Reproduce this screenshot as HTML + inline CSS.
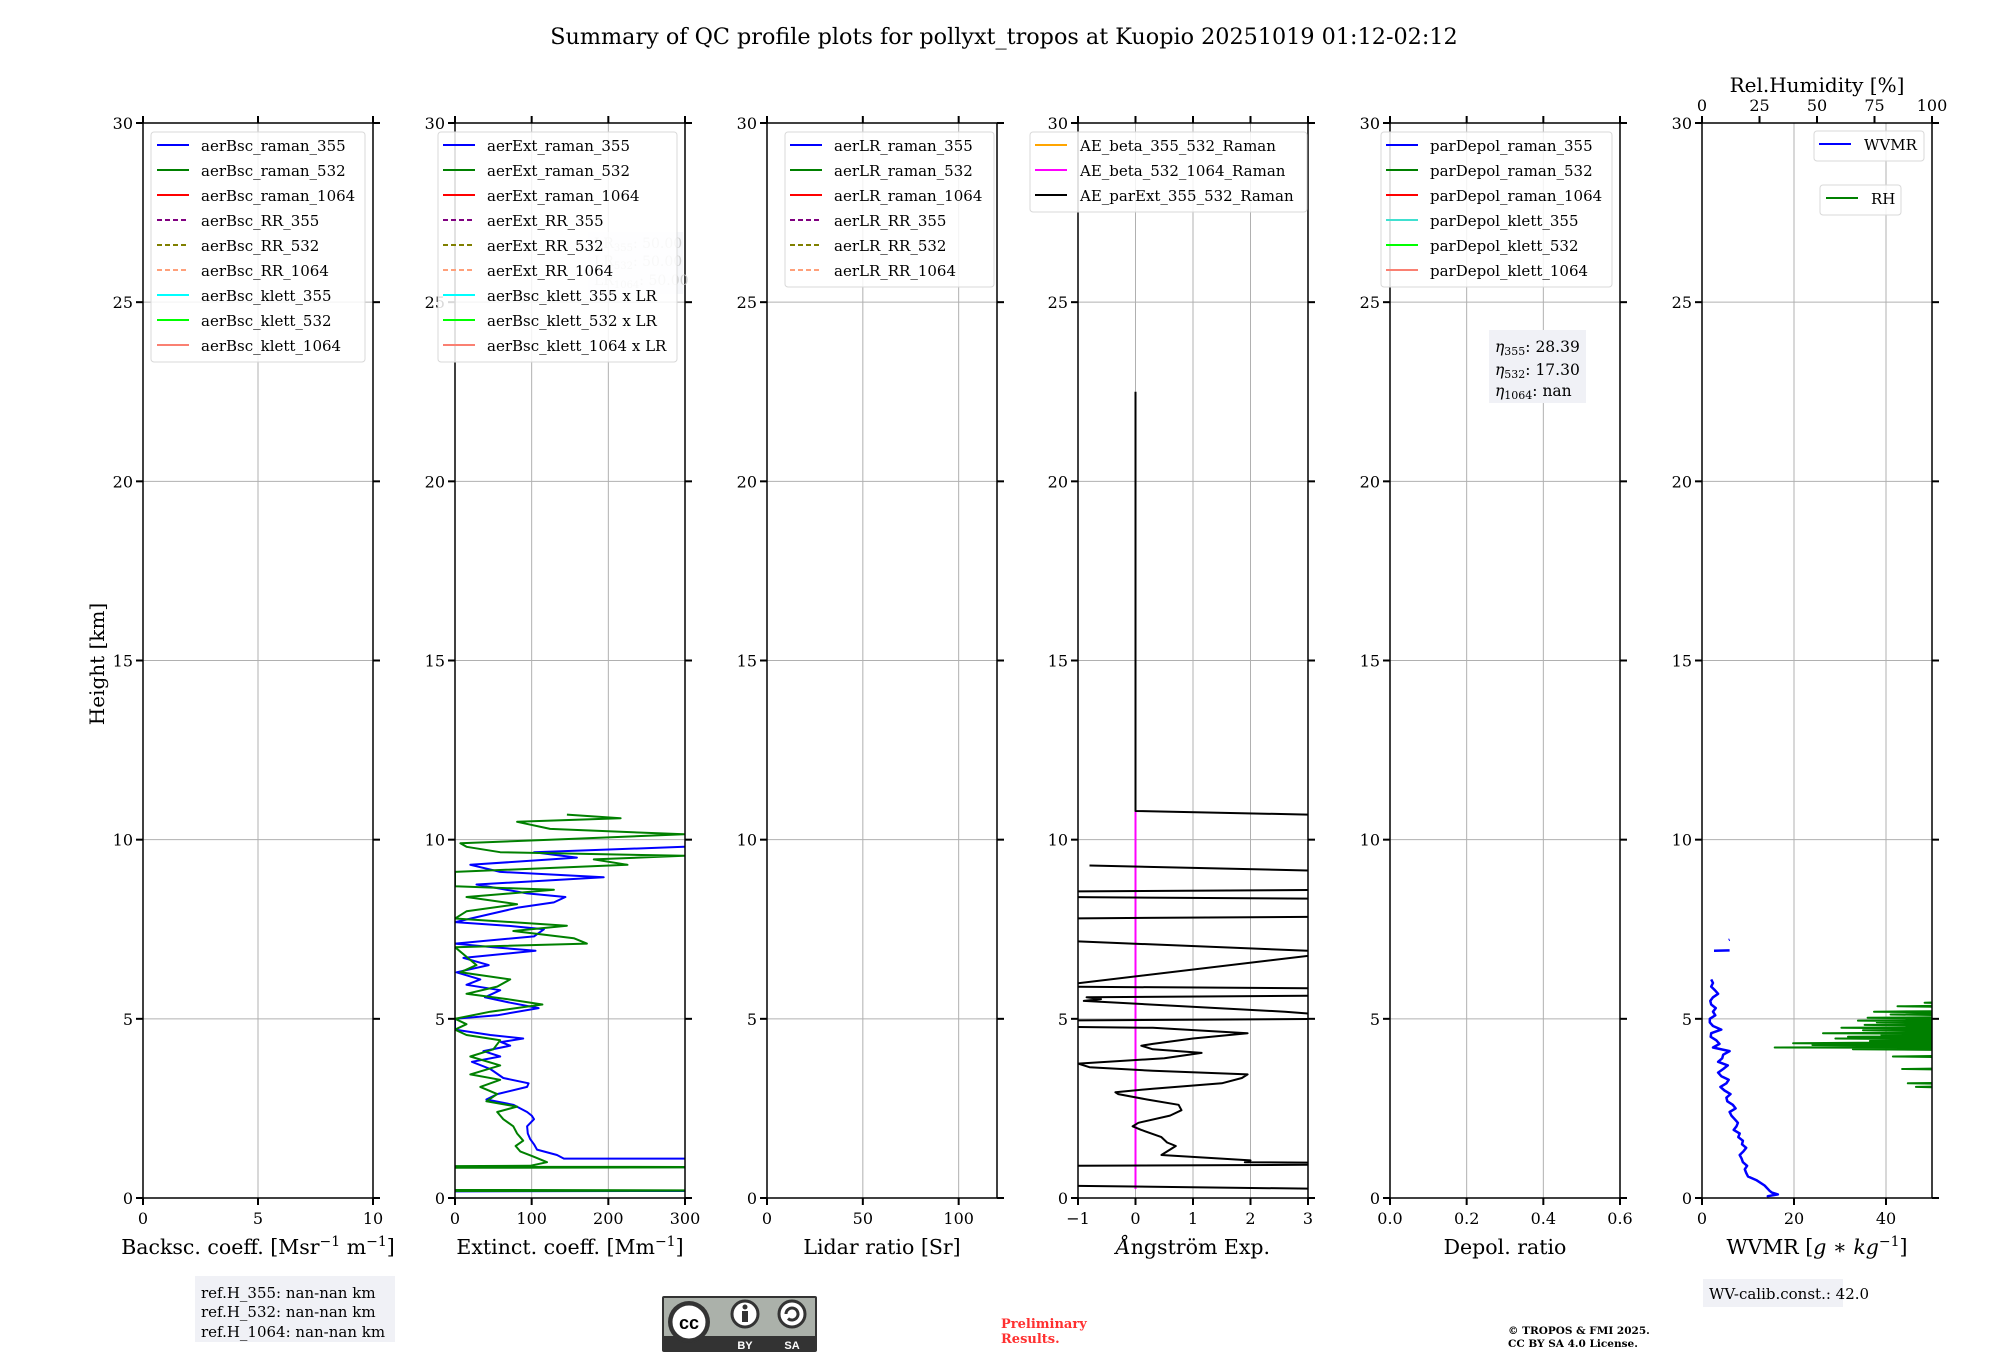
<!DOCTYPE html>
<html><head><meta charset="utf-8">
<style>
html,body{margin:0;padding:0;background:#fff;}
svg{display:block;font-family:"DejaVu Serif","Liberation Serif",serif;}
</style></head>
<body>
<svg id="fig" width="2000" height="1360" viewBox="0 0 2000 1360" xmlns="http://www.w3.org/2000/svg">
<text x="1004" y="44" font-size="22.3" text-anchor="middle">Summary of QC profile plots for pollyxt_tropos at Kuopio 20251019 01:12-02:12</text>
<text transform="translate(104,664) rotate(-90)" font-size="20" text-anchor="middle">Height [km]</text>
<g id="panels"></g>

<g>
<rect x="195" y="1276" width="200" height="66" fill="#f0f1f6"/>
<text x="201" y="1298" font-size="15">ref.H_355: nan-nan km</text>
<text x="201" y="1317" font-size="15">ref.H_532: nan-nan km</text>
<text x="201" y="1337" font-size="15">ref.H_1064: nan-nan km</text>
</g>
<g>
<rect x="662" y="1296" width="155" height="56" fill="#333" rx="2"/>
<rect x="664" y="1298" width="151" height="38" fill="#abb1aa"/>
<circle cx="689" cy="1322" r="21" fill="#333"/>
<circle cx="689" cy="1322" r="18" fill="#fff" stroke="#333" stroke-width="3"/>
<text x="689" y="1329" font-size="18" font-weight="bold" text-anchor="middle" font-family="Liberation Sans, sans-serif">cc</text>
<circle cx="745" cy="1314" r="13" fill="#fff" stroke="#333" stroke-width="3"/>
<circle cx="745" cy="1307" r="2.5" fill="#333"/>
<rect x="742" y="1311" width="6" height="11" fill="#333"/>
<circle cx="792" cy="1314" r="13" fill="#fff" stroke="#333" stroke-width="3"/>
<path d="M786 1314 a6 6 0 1 1 2 4.5" fill="none" stroke="#333" stroke-width="3"/>
<text x="745" y="1349" font-size="11" font-weight="bold" fill="#fff" text-anchor="middle" font-family="Liberation Sans, sans-serif">BY</text>
<text x="792" y="1349" font-size="11" font-weight="bold" fill="#fff" text-anchor="middle" font-family="Liberation Sans, sans-serif">SA</text>
</g>
<text x="1001" y="1328" font-size="13" font-weight="bold" fill="#ff3030">Preliminary</text>
<text x="1001" y="1343" font-size="13" font-weight="bold" fill="#ff3030">Results.</text>
<text x="1508" y="1334" font-size="10.5" font-weight="bold">© TROPOS &amp; FMI 2025.</text>
<text x="1508" y="1347" font-size="10.5" font-weight="bold">CC BY SA 4.0 License.</text>
<g>
<rect x="1703" y="1279" width="140" height="28" fill="#f0f1f6"/>
<text x="1709" y="1299" font-size="15">WV-calib.const.: 42.0</text>
</g>
</svg>
<script>
const yTicks = [0,5,10,15,20,25,30];
const ext355H = [0.18,0.2,0.22,null,0.85,0.87,1.1,1.1,1.2,1.35,1.5,1.65,1.8,2.0,2.2,2.3,2.4,2.6,2.75,2.9,3.1,3.2,3.35,3.6,3.8,3.95,4.1,4.25,4.35,4.45,4.55,4.7,5.0,5.1,5.3,5.45,5.6,5.8,5.95,6.1,6.3,6.5,6.7,6.9,7.0,7.1,7.3,7.5,7.6,7.7,8.1,8.25,8.4,8.5,8.75,8.95,9.1,9.3,9.5,9.65,9.8,9.9];
const ext355V = [-100,400,-100,null,90,500,500,142,133,107,103,98,95,94,103,100,94,76,41,55,94,96,63,46,22,59,37,72,60,89,46,0,0,55,109,72,39,59,15,33,2,44,11,105,50,0,103,116,68,0,81,129,144,94,28,194,59,20,159,103,299,500];
const ext532H = [0.19,0.21,0.23,null,0.84,0.86,0.88,0.9,1.0,1.15,1.3,1.45,1.6,1.8,2.0,2.2,2.4,2.55,2.7,2.9,3.1,3.3,3.45,3.7,3.95,4.15,4.4,4.55,4.7,4.85,5.0,5.2,5.4,5.55,5.7,5.9,6.1,6.3,6.5,7.0,7.1,7.25,7.45,7.6,7.8,8.0,8.2,8.4,8.6,8.7,9.1,9.3,9.45,9.55,9.65,9.8,9.9,10.0,10.15,10.3,10.5,10.6,10.7];
const ext532V = [-100,400,-100,null,-100,500,-100,98,120,103,85,79,89,81,76,63,55,81,41,55,33,59,20,59,20,50,59,15,0,15,0,46,114,68,15,55,72,7,28,0,172,155,76,146,0,15,81,15,129,0,0,225,181,299,59,15,7,124,299,124,81,216,146];
const aeH = [0.25,0.35,0.9,0.93,0.98,1.0,1.05,1.2,1.45,1.55,1.7,1.9,2.0,2.1,2.3,2.45,2.6,2.75,2.9,2.95,3.05,3.2,3.35,3.45,3.55,3.65,3.75,3.9,4.05,4.15,4.25,4.3,4.45,4.6,4.75,4.78,4.95,5.0,5.1,5.15,5.2,5.5,5.55,5.6,5.65,5.85,5.9,6.85,6.9,7.16,7.2,7.8,7.85,8.35,8.4,8.55,8.6,9.05,9.14,9.28,null,10.65,10.7,10.8,22.5];
const aeV = [3.5,-1.5,-1.5,3.5,3.5,1.9,2.0,0.45,0.7,0.55,0.45,0.1,-0.05,0.05,0.6,0.8,0.75,0.2,-0.3,-0.35,0.3,1.5,1.85,1.95,0.3,-0.8,-1.0,0.5,1.15,0.3,0.1,0.3,1.0,1.95,0.3,-1.5,-1.5,3.5,3.5,3.0,2.6,-0.9,-0.6,-0.85,3.5,3.5,-1.5,3.5,3.0,-1.0,-1.5,-1.5,3.5,3.5,-1.5,-1.5,3.5,3.5,3.0,-0.8,null,3.5,3.0,0,0];
const aeBetaH = [0.25,10.8];
const aeBetaV = [0,0];
const wvH = [0.02,0.05,0.1,0.15,0.2,0.35,0.5,0.6,0.7,0.8,0.9,1.0,1.1,1.2,1.3,1.4,1.5,1.6,1.7,1.8,1.9,2.0,2.1,2.2,2.3,2.4,2.5,2.6,2.7,2.8,2.9,3.0,3.1,3.2,3.3,3.4,3.5,3.6,3.7,3.8,3.9,4.0,4.1,4.2,4.3,4.4,4.5,4.6,4.7,4.8,4.9,5.0,5.1,5.2,5.3,5.4,5.5,5.6,5.7,5.8,5.9,6.0,6.1,null,6.9,6.91,null,7.2,7.21];
const wvV = [14.5,14.3,16.5,15.2,14.7,13.6,11.8,10.0,9.6,9.3,9.8,8.9,8.6,8.2,9.0,9.6,8.7,8.9,7.9,8.2,6.9,7.5,7.8,7.1,6.4,6.0,7.3,6.7,5.5,5.3,6.2,4.9,4.0,5.3,5.8,4.2,3.5,4.6,5.6,3.5,4.4,4.6,6.0,2.4,3.8,3.1,1.9,2.0,4.2,2.4,1.7,1.7,2.9,2.4,3.0,2.0,1.8,2.4,3.5,2.8,2.0,2.4,2.0,null,2.6,6.0,null,5.8,6.0];
const rhH = [3.08,3.1,3.12,3.18,3.2,3.22,3.58,3.6,3.62,3.93,3.95,3.97,4.13,4.15,4.17,4.19,4.2,4.22,4.25,4.27,4.28,4.3,4.32,4.35,4.37,4.38,4.4,4.42,4.45,4.47,4.48,4.5,4.52,4.55,4.58,4.6,4.62,4.65,4.68,4.7,4.72,4.75,4.77,4.8,4.83,4.85,4.87,4.9,4.93,4.95,4.97,5.0,5.03,5.05,5.1,5.12,5.15,5.18,5.2,5.22,5.33,5.35,5.37,5.43,5.45,5.47];
const rhV = [110,93,110,110,89.5,110,110,87,110,110,83,110,110,65.6,110,110,31.6,110,110,48,110,110,39.6,110,110,73,110,110,58,110,110,63.5,110,78,110,52.6,110,110,70,110,110,60.6,110,110,70.7,110,110,76,110,67.8,110,110,72,110,110,82,110,110,74.8,110,110,85,110,110,96.8,110];

const panelLeft = [143,455,767,1078,1390,1702];
const TOP=123, BOT=1198, W=230;
const NS="http://www.w3.org/2000/svg";
const root=document.getElementById('panels');
function mk(tag,attrs,parent){const e=document.createElementNS(NS,tag);for(const k in attrs)e.setAttribute(k,attrs[k]);(parent||root).appendChild(e);return e;}
function yS(h){return BOT-(h/30)*(BOT-TOP);}

const panels=[
 {name:'backscatter',xmin:0,xmax:10,ticks:[0,5,10],labels:['0','5','10'],xlabel:'Backsc. coeff. [Msr<tspan dy="-8" font-size="14">−1</tspan><tspan dy="8"> m</tspan><tspan dy="-8" font-size="14">−1</tspan><tspan dy="8">]</tspan>'},
 {name:'extinction',xmin:0,xmax:300,ticks:[0,100,200,300],labels:['0','100','200','300'],xlabel:'Extinct. coeff. [Mm<tspan dy="-8" font-size="14">−1</tspan><tspan dy="8">]</tspan>'},
 {name:'lidar-ratio',xmin:0,xmax:120,ticks:[0,50,100],labels:['0','50','100'],xlabel:'Lidar ratio [Sr]'},
 {name:'angstrom',xmin:-1,xmax:3,ticks:[-1,0,1,2,3],labels:['−1','0','1','2','3'],xlabel:'<tspan font-style="italic">Å</tspan>ngström Exp.'},
 {name:'depol',xmin:0,xmax:0.6,ticks:[0,0.2,0.4,0.6],labels:['0.0','0.2','0.4','0.6'],xlabel:'Depol. ratio'},
 {name:'wvmr',xmin:0,xmax:50,ticks:[0,20,40],labels:['0','20','40'],xlabel:'WVMR [<tspan font-style="italic">g</tspan> ∗ <tspan font-style="italic">kg</tspan><tspan dy="-8" font-size="14">−1</tspan><tspan dy="8">]</tspan>'}
];

function drawLine(g,p,L,H,V,color,width,name){
  const xs=v=>L+(v-p.xmin)/(p.xmax-p.xmin)*W;
  let d='',pen=false;
  for(let i=0;i<H.length;i++){
    if(H[i]===null||V[i]===null){pen=false;continue;}
    d+=(pen?'L':'M')+xs(V[i]).toFixed(1)+' '+yS(H[i]).toFixed(1);pen=true;
  }
  const e=mk('path',{d:d,fill:'none',stroke:color,'stroke-width':width,'stroke-linejoin':'round'},g);
  
  
}

panels.forEach((p,i)=>{
  const L=panelLeft[i];
  const g=mk('g',{});
  
  
  const cp=mk('clipPath',{id:'clip'+i},g);
  mk('rect',{x:L,y:TOP,width:W,height:BOT-TOP},cp);
  const xs=v=>L+(v-p.xmin)/(p.xmax-p.xmin)*W;
  yTicks.forEach(t=>{ if(t>0&&t<30){const e=mk('line',{x1:L,x2:L+W,y1:yS(t),y2:yS(t),stroke:'#b0b0b0','stroke-width':1},g);
    
    }});
  p.ticks.forEach(t=>{const x=xs(t); if(x>L+1&&x<L+W-1){const e=mk('line',{x1:x,x2:x,y1:TOP,y2:BOT,stroke:'#b0b0b0','stroke-width':1},g);
    
    }});
  const sg=mk('g',{'clip-path':'url(#clip'+i+')'},g);
  if(i===1){drawLine(sg,p,L,ext355H,ext355V,'#0000ff',2,'aerExt-raman-355-line');drawLine(sg,p,L,ext532H,ext532V,'#008000',2,'aerExt-raman-532-line');}
  if(i===3){drawLine(sg,p,L,aeBetaH,aeBetaV,'#ff00ff',2,'AE-beta-532-1064-line');drawLine(sg,p,L,aeH,aeV,'#000000',2,'AE-parExt-355-532-line');}
  if(i===5){
    const rp={xmin:0,xmax:100};
    drawLine(sg,rp,L,rhH,rhV,'#008000',2,'RH-line');
    drawLine(sg,p,L,wvH,wvV,'#0000ff',2.5,'WVMR-line');
  }
  const fr=mk('rect',{x:L,y:TOP,width:W,height:BOT-TOP,fill:'none',stroke:'#000','stroke-width':1.5},g);
  
  
  yTicks.forEach(t=>{
    mk('line',{x1:L-7,x2:L,y1:yS(t),y2:yS(t),stroke:'#000','stroke-width':2},g);
    mk('line',{x1:L+W,x2:L+W+7,y1:yS(t),y2:yS(t),stroke:'#000','stroke-width':2},g);
    const tl=mk('text',{x:L-10,y:yS(t)+6,'font-size':16,'text-anchor':'end'},g);
    tl.textContent=String(t);
    
    
  });
  p.ticks.forEach((t,k)=>{
    const x=xs(t);
    mk('line',{x1:x,x2:x,y1:BOT,y2:BOT+7,stroke:'#000','stroke-width':2},g);
    if(i!==5) mk('line',{x1:x,x2:x,y1:TOP-7,y2:TOP,stroke:'#000','stroke-width':2},g);
    const tl=mk('text',{x:x,y:BOT+26,'font-size':16,'text-anchor':'middle'},g);
    tl.textContent=p.labels[k];
    
    
  });
  const xl=mk('text',{x:L+W/2,y:1254,'font-size':20.5,'text-anchor':'middle'},g);
  xl.innerHTML=p.xlabel;
  
  
});

const rhTicks=[0,25,50,75,100];
rhTicks.forEach(t=>{
  const x=panelLeft[5]+t/100*W;
  mk('line',{x1:x,x2:x,y1:TOP-7,y2:TOP,stroke:'#000','stroke-width':2});
  const tl=mk('text',{x:x,y:TOP-12,'font-size':16,'text-anchor':'middle'});
  tl.textContent=String(t);
  
  
});
const rht=mk('text',{x:panelLeft[5]+W/2,y:92,'font-size':20,'text-anchor':'middle'});
rht.textContent='Rel.Humidity [%]';



const lrg=mk('g',{});


mk('rect',{x:588,y:232,width:95,height:62,fill:'#f0f1f6',opacity:0.6},lrg);
[['355',248],['532',266],['1064',285]].forEach(a=>{const t=mk('text',{x:594,y:a[1],'font-size':14,fill:'#cfcfcf'},lrg);t.innerHTML='LR<tspan font-size="10" dy="3">'+a[0]+'</tspan><tspan dy="-3">: 50.00</tspan>';});

const legends=[
 {x:151,y:132,w:214,tx:201,lx:[157,189],items:[['aerBsc_raman_355','#0000ff',0],['aerBsc_raman_532','#008000',0],['aerBsc_raman_1064','#ff0000',0],['aerBsc_RR_355','#800080',1],['aerBsc_RR_532','#808000',1],['aerBsc_RR_1064','#ffa07a',1],['aerBsc_klett_355','#00ffff',0],['aerBsc_klett_532','#00ff00',0],['aerBsc_klett_1064','#fa8072',0]]},
 {x:438,y:132,w:239,tx:487,lx:[443,475],items:[['aerExt_raman_355','#0000ff',0],['aerExt_raman_532','#008000',0],['aerExt_raman_1064','#ff0000',0],['aerExt_RR_355','#800080',1],['aerExt_RR_532','#808000',1],['aerExt_RR_1064','#ffa07a',1],['aerBsc_klett_355 x LR','#00ffff',0],['aerBsc_klett_532 x LR','#00ff00',0],['aerBsc_klett_1064 x LR','#fa8072',0]]},
 {x:785,y:132,w:209,tx:834,lx:[790,822],items:[['aerLR_raman_355','#0000ff',0],['aerLR_raman_532','#008000',0],['aerLR_raman_1064','#ff0000',0],['aerLR_RR_355','#800080',1],['aerLR_RR_532','#808000',1],['aerLR_RR_1064','#ffa07a',1]]},
 {x:1030,y:132,w:277,tx:1080,lx:[1035,1067],items:[['AE_beta_355_532_Raman','#ffa500',0],['AE_beta_532_1064_Raman','#ff00ff',0],['AE_parExt_355_532_Raman','#000000',0]]},
 {x:1381,y:132,w:231,tx:1430,lx:[1386,1418],items:[['parDepol_raman_355','#0000ff',0],['parDepol_raman_532','#008000',0],['parDepol_raman_1064','#ff0000',0],['parDepol_klett_355','#40e0d0',0],['parDepol_klett_532','#00ff00',0],['parDepol_klett_1064','#fa8072',0]]},
 {x:1814,y:131,w:110,tx:1864,lx:[1819,1851],items:[['WVMR','#0000ff',0]]},
 {x:1820,y:185,w:81,tx:1871,lx:[1826,1858],items:[['RH','#008000',0]]}
];
legends.forEach(lg=>{
  const g=mk('g',{});
  
  
  const h=lg.items.length*25+5;
  mk('rect',{x:lg.x,y:lg.y,width:lg.w,height:h,rx:3,fill:'#fff','fill-opacity':0.85,stroke:'#d8d8d8','stroke-width':1},g);
  lg.items.forEach((it,k)=>{
    const y=lg.y+13+k*25;
    mk('line',{x1:lg.lx[0],x2:lg.lx[1],y1:y,y2:y,stroke:it[1],'stroke-width':2,'stroke-dasharray':it[2]?'5,3':'none'},g);
    const t=mk('text',{x:lg.tx,y:y+6,'font-size':15},g);
    t.textContent=it[0];
    
    
  });
});

const eg=mk('g',{});


mk('rect',{x:1489,y:330,width:97,height:73,fill:'#f0f1f6'},eg);
[['355','28.39',352],['532','17.30',375],['1064','nan',396]].forEach(a=>{const t=mk('text',{x:1495,y:a[2],'font-size':15.5},eg);t.innerHTML='<tspan font-style="italic">η</tspan><tspan font-size="11" dy="3">'+a[0]+'</tspan><tspan dy="-3">: '+a[1]+'</tspan>';});
</script>
</body></html>
